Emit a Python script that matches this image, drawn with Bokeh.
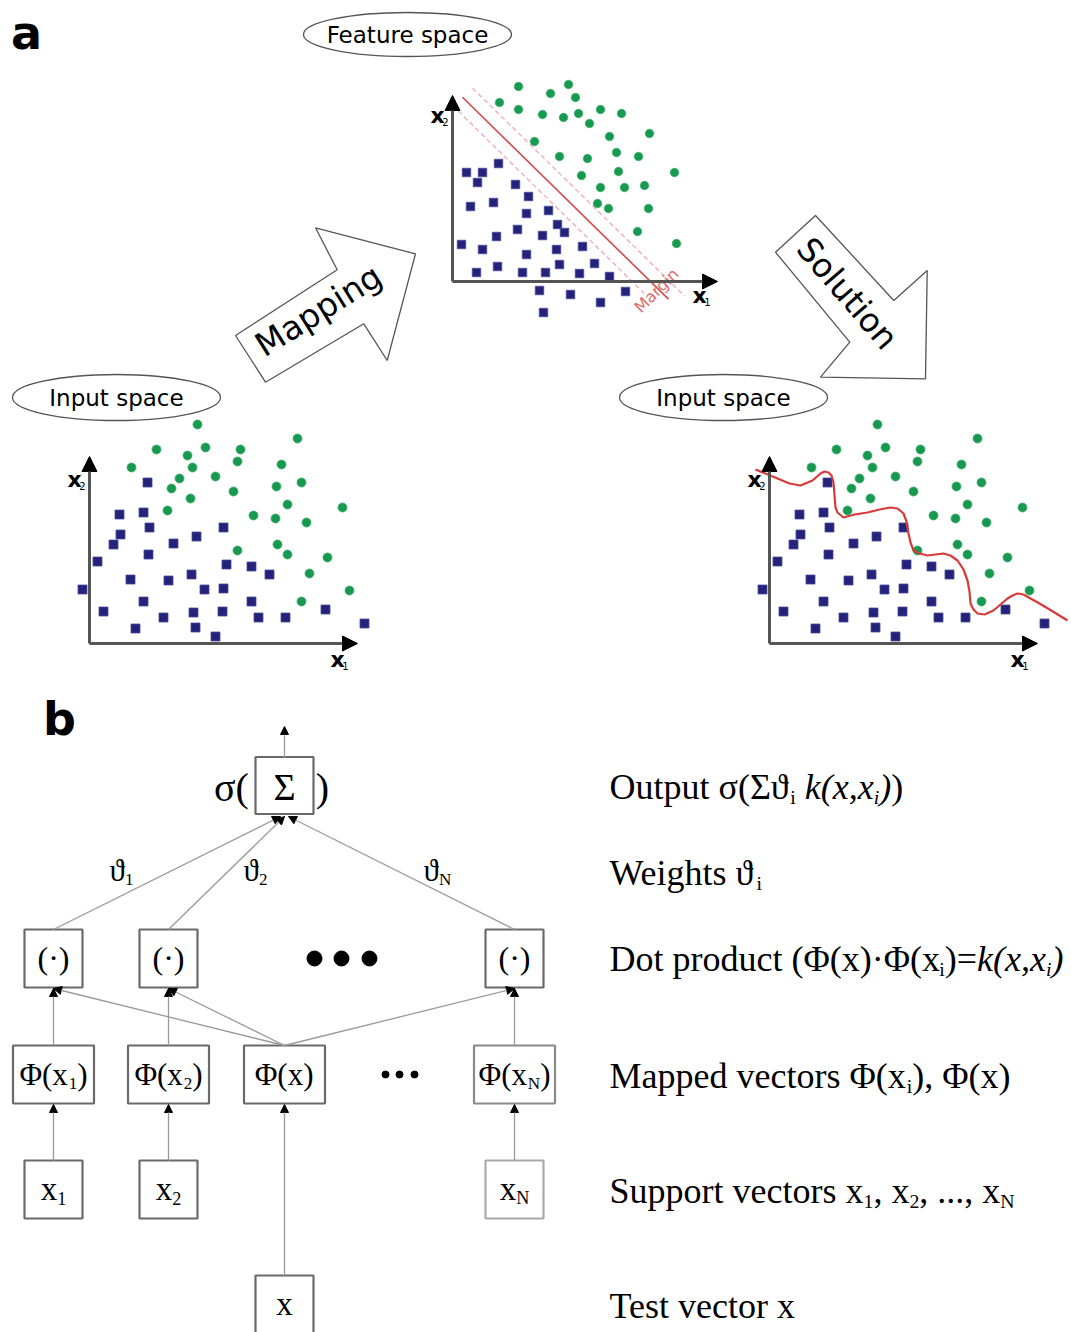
from bokeh.plotting import figure
from bokeh.models import Range1d, Arrow, NormalHead
from bokeh.core.properties import value
from bokeh.embed import file_html
from bokeh.resources import INLINE
import numpy as np

# ---------------- DATA ----------------
# Input-space points, local units (origin at axis corner, y up)
input_green_x = [108, 208, 67, 116, 151, 98, 148, 42, 103, 192, 90, 126, 212, 82, 187,
                 144, 101, 198, 253, 78, 164, 186, 217, 188, 148, 198, 238, 220, 260, 212]
input_green_y = [219, 205, 194, 196, 194, 188, 182, 176, 176, 179, 165, 167, 161, 155, 157,
                 152, 145, 139, 136, 133, 128, 125, 121, 99, 93, 89, 86, 70, 53, 42]
input_blue_x = [58, 30, 54, 60, 134, 31, 107, 24, 84, 59, 8, 137, 162, 180, 41, 79, 102,
                -7, 115, 134, 54, 162, 14, 74, 104, 133, 169, 196, 236, 46, 106, 126, 275]
input_blue_y = [161, 129, 131, 116, 116, 109, 107, 99, 100, 89, 82, 79, 77, 69, 64, 63, 69,
                54, 54, 55, 42, 42, 32, 26, 31, 32, 26, 26, 34, 15, 16, 7, 20]

# Feature-space points, local units
feat_green_x = [66, 116, 98, 123, 47, 66, 90, 111, 126, 148, 169, 137, 157, 197, 82,
                107, 135, 164, 186, 222, 129, 166, 148, 172, 192, 145, 156, 196, 185, 224]
feat_green_y = [195, 197, 188, 184, 179, 172, 167, 164, 168, 172, 168, 158, 145, 148, 140,
                125, 123, 129, 125, 109, 106, 110, 94, 94, 96, 78, 73, 73, 50, 38]
feat_blue_x = [46, 14, 30, 25, 63, 76, 18, 41, 74, 96, 105, 112, 65, 44, 90, 9, 30, 74,
               104, 130, 45, 24, 70, 93, 107, 127, 142, 157, 87, 118, 173, 148, 91]
feat_blue_y = [118, 109, 109, 99, 97, 85, 75, 79, 68, 71, 57, 49, 52, 45, 46, 37, 32, 27,
               32, 35, 15, 9, 9, 9, 17, 8, 18, 5, -9, -13, -10, -21, -31]

# Separating hyperplane in feature space: x2 = b - m * x1 (local units)
hyper_slope = 0.98
hyper_b = 194
margin_b = [213, 176]

# Non-linear decision boundary in input space (local units)
curve_x = [-14, 8, 20, 31, 43, 51, 55, 59, 62, 64, 65, 66, 68, 74, 85, 98, 110, 121, 128,
           134, 137, 139, 141, 144, 150, 158, 174, 181, 188, 194, 198, 200, 201, 204, 208,
           215, 224, 231, 238, 243, 248, 254, 261, 270, 285, 298]
curve_y = [174, 165, 160, 158, 163, 170, 172, 171, 168, 161, 148, 136, 131, 126, 129, 131,
           134, 136, 135, 130, 122, 110, 101, 93, 90, 88, 90, 88, 83, 74, 63, 52, 40, 34, 30,
           29, 33, 39, 45, 48, 50, 49, 45, 40, 31, 23]

panel_titles = ["Input space", "Feature space", "Input space"]
arrow_words = ["Mapping", "Solution"]

# Part b labels
row_labels = [
    [("Output σ(Σϑ", "n"), ("i", "s"), (" ", "n"), ("k(x,x", "i"), ("i", "si"), (")", "i"), (")", "n")],
    [("Weights ϑ", "n"), ("i", "s")],
    [("Dot product (Φ(x)·Φ(x", "n"), ("i", "s"), (")=", "n"), ("k(x,x", "i"), ("i", "si"), (")", "i")],
    [("Mapped vectors Φ(x", "n"), ("i", "s"), ("), Φ(x)", "n")],
    [("Support vectors x", "n"), ("1", "s"), (", x", "n"), ("2", "s"), (", ..., x", "n"), ("N", "s")],
    [("Test vector x", "n")],
]
weight_subs = ["1", "2", "N"]
mapped_subs = ["1", "2", None, "N"]
support_subs = ["1", "2", "N"]

# ---------------- LAYOUT ----------------
W, H = 1071, 1332
p = figure(width=W, height=H, x_range=Range1d(0, W), y_range=Range1d(H, 0),
           output_backend="svg", toolbar_location=None, min_border=0)
p.axis.visible = False
p.grid.visible = False
p.outline_line_color = None
p.background_fill_color = "white"

SANS = "DejaVu Sans"
SERIF = "Liberation Serif"
BLUE = "#23237a"
GREEN = "#17994f"

def txt(x, y, s, size, font=SANS, align="center", base="middle", color="black",
        angle=0, style="normal"):
    p.text(x=[x], y=[y], text=[s], text_font=value(font), text_font_size=f"{size}px",
           text_align=align, text_baseline=base, text_color=color, angle=angle,
           text_font_style=style)

# Times-like advance widths (em)
WID = {' ': .25, '(': .333, ')': .333, ',': .25, '.': .25, '=': .564, '1': .5, '2': .5,
       'D': .722, 'M': .889, 'N': .722, 'O': .722, 'S': .556, 'T': .611, 'W': .944,
       'a': .444, 'c': .444, 'd': .5, 'e': .444, 'g': .5, 'h': .5, 'i': .278, 'k': .5,
       'o': .5, 'p': .5, 'r': .333, 's': .389, 't': .278, 'u': .5, 'v': .5, 'x': .5,
       'σ': .56, 'Σ': .6, 'ϑ': .5, 'Φ': .76, '·': .25}
WID_I = {'k': .444, 'x': .444}

def rich(x, y, segs, size, align="left", color="black"):
    items = []
    for t, k in segs:
        sub = k.startswith("s")
        ital = k.endswith("i")
        s = size * 0.55 if sub else size
        w = sum((WID_I.get(c, WID.get(c, .5)) if ital else WID.get(c, .5)) for c in t) * s
        items.append((t, s, w, sub, ital))
    total = sum(i[2] for i in items)
    cx = x - total / 2 if align == "center" else x
    for t, s, w, sub, ital in items:
        yy = y + (0.3 * size if sub else 0)
        txt(cx, yy, t, round(s, 1), font=SERIF, align="left", base="middle",
            color=color, style="italic" if ital else "normal")
        cx += w

# ---------- part a ----------
txt(26, 32, "a", 46, style="bold")

def panel(ox, oy, gx, gy, bx, by, ms=9):
    gx = np.array(gx) + ox; gy = oy - np.array(gy)
    bx = np.array(bx) + ox; by = oy - np.array(by)
    p.scatter(bx, by, marker="square", size=ms, fill_color=BLUE, line_color="#4a4aa0",
              line_width=0.8)
    p.scatter(gx, gy, marker="circle", size=ms, fill_color=GREEN, line_color="#3cb06c",
              line_width=0.8)

def axes(ox, oy, xlen, ylen):
    for (xe, ye) in [(ox + xlen, oy), (ox, oy - ylen)]:
        p.add_layout(Arrow(x_start=ox, y_start=oy, x_end=xe, y_end=ye, line_color="#555555",
                           line_width=3,
                           end=NormalHead(size=15, fill_color="black", line_color="black")))

def axis_labels(ox, oy, x1pos, x2pos):
    for (lx, ly), sub in [(x1pos, "1"), (x2pos, "2")]:
        txt(ox + lx, oy - ly, "x", 22, style="bold", align="center", base="middle")
        txt(ox + lx + 8, oy - ly + 6, sub, 10, align="center", base="middle")

# ellipses with titles
ell = [(116, 397, 208, 46), (407, 34, 208, 44), (723, 397, 208, 46)]
for (cx, cy, ew, eh), t in zip(ell, panel_titles):
    p.ellipse(x=[cx], y=[cy], width=[ew], height=[eh], fill_color="white",
              line_color="#555555", line_width=1.3)
    txt(cx, cy, t, 23, font=SANS)

# left panel
OL = (89, 643)
axes(OL[0], OL[1], 268, 187)
panel(OL[0], OL[1], input_green_x, input_green_y, input_blue_x, input_blue_y)
axis_labels(OL[0], OL[1], (248, -16), (-15, 164))

# middle panel
OM = (452, 281)
xs = np.array([10, 216]); p.line(OM[0] + xs, OM[1] - (hyper_b - hyper_slope * xs),
                                 line_color="#d24a4a", line_width=1.6)
for b, rng in zip(margin_b, [(20, 232), (0, 192)]):
    xm = np.array(rng)
    p.line(OM[0] + xm, OM[1] - (b - hyper_slope * xm), line_color="#eeaab4",
           line_width=1.3, line_dash="5 3")
axes(OM[0], OM[1], 265, 186)
panel(OM[0], OM[1], feat_green_x, feat_green_y, feat_blue_x, feat_blue_y, ms=8.5)
axis_labels(OM[0], OM[1], (247, -14), (-15, 166))
txt(656, 290, "Margin", 16, color="#e06a6a", angle=0.78)

# right panel (same data, non-linear boundary)
OR = (769, 643)
axes(OR[0], OR[1], 268, 187)
panel(OR[0], OR[1], input_green_x, input_green_y, input_blue_x, input_blue_y)
p.line(OR[0] + np.array(curve_x), OR[1] - np.array(curve_y), line_color="#d83a3a",
       line_width=2.2)
axis_labels(OR[0], OR[1], (248, -16), (-15, 164))

# block arrows
map_poly = ([265, 235, 336.7, 315, 415, 386.7, 363.3],
            [381.7, 335, 269.3, 227.3, 253.3, 360, 323.3])
sol_poly = ([815, 775, 849.3, 820, 925, 926.7, 893.3],
            [215, 251.7, 341.7, 376.7, 378.3, 270, 300])
for xs_, ys_ in [map_poly, sol_poly]:
    p.patch(xs_, ys_, fill_color="white", line_color="#555555", line_width=1.3)
txt(318, 310, arrow_words[0], 33, angle=0.56)
txt(847, 293, arrow_words[1], 33, angle=-0.86)

# ---------- part b ----------
txt(59, 718, "b", 46, style="bold")

LINE = "#9a9a9a"
def arrow(x0, y0, x1, y1, head=True):
    p.add_layout(Arrow(x_start=x0, y_start=y0, x_end=x1, y_end=y1, line_color=LINE,
                       line_width=1.3,
                       end=NormalHead(size=8, fill_color="black", line_color="black",
                                      line_width=1) if head else None))

def box(cx, cy, w, h, color="#6a6a6a"):
    p.rect(x=[cx], y=[cy], width=[w], height=[h], fill_color="white", line_color=color,
           line_width=2.2)

cols = [53, 168, 514]
# connections
arrow(284, 757, 284, 726)
for c, ex in zip(cols, [280, 284, 288]):
    arrow(c, 929, ex, 816)
    arrow(284, 1045, c, 988)
    arrow(c, 1045, c, 988)
    arrow(c, 1160, c, 1104)
arrow(284, 1275, 284, 1104)

# boxes
box(284, 785, 58, 57)
for c in cols:
    box(c, 958, 58, 58)
for c in [53, 168, 284, 514]:
    box(c, 1074, 81, 58, color="#6a6a6a" if c != 514 else "#8a8a8a")
for c in cols:
    box(c, 1189, 58, 58, color="#6a6a6a" if c != 514 else "#aaaaaa")
box(284, 1304, 58, 58)

# box texts
txt(284, 786, "Σ", 38, font=SERIF)
txt(231, 787, "σ(", 40, font=SERIF)
txt(322, 787, ")", 40, font=SERIF)
for c in cols:
    txt(c, 957, "(·)", 32, font=SERIF)
for x0 in [314, 341, 369]:
    p.scatter([x0], [958], marker="circle", size=15, fill_color="black", line_color="black")
for x0 in [385, 399, 414]:
    p.scatter([x0], [1074], marker="circle", size=7, fill_color="black", line_color="black")

for c, s in zip([53, 168, 284, 514], mapped_subs):
    if s is None:
        rich(c, 1074, [("Φ(x)", "n")], 31, align="center")
    else:
        rich(c, 1074, [("Φ(x", "n"), (s, "s"), (")", "n")], 31, align="center")
for c, s in zip(cols, support_subs):
    rich(c, 1188, [("x", "n"), (s, "s")], 33, align="center")
rich(284, 1303, [("x", "n")], 33, align="center")

# weight labels
for x0, s in zip([109, 243, 423], weight_subs):
    rich(x0, 870, [("ϑ", "n"), (s, "s")], 31)

# row labels
for segs, yc in zip(row_labels, [786, 872, 958, 1075, 1190, 1305]):
    rich(609, yc, segs, 36)

open("out.html", "w").write(file_html(p, INLINE))
